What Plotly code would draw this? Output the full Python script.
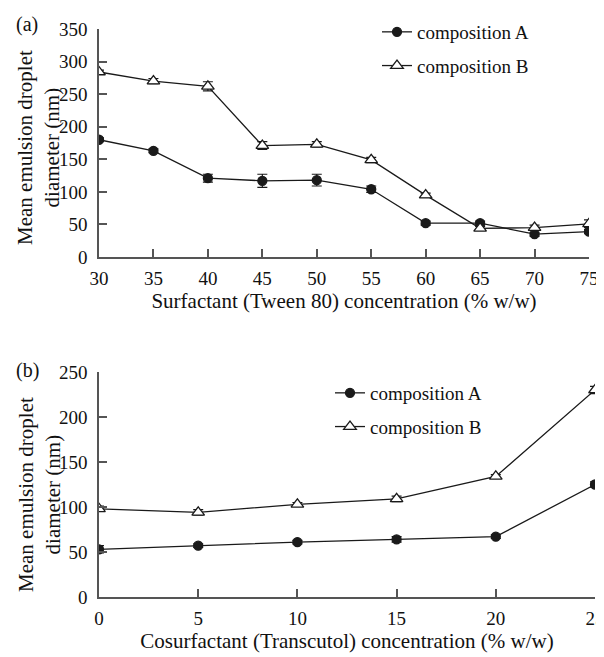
import plotly.graph_objects as go

# Panel (a): surfactant concentration
surf_conc = [30, 35, 40, 45, 50, 55, 60, 65, 70, 75]
a_compA = [180, 163, 121, 117, 118, 104, 52, 52, 35, 39]
a_compA_err = [3, 3, 6, 10, 9, 5, 3, 3, 3, 3]
a_compB = [284, 270, 262, 171, 173, 149, 95, 44, 45, 51]
a_compB_err = [3, 4, 7, 6, 4, 4, 3, 3, 4, 6]

# Panel (b): cosurfactant concentration
cosurf_conc = [0, 5, 10, 15, 20, 25]
b_compA = [53, 57, 61, 64, 67, 125]
b_compA_err = [4, 2, 2, 3, 2, 3]
b_compB = [98, 94, 103, 109, 134, 230]
b_compB_err = [3, 3, 2, 3, 2, 4]

ticks_a_x = [30, 35, 40, 45, 50, 55, 60, 65, 70, 75]
ticks_a_y = [0, 50, 100, 150, 200, 250, 300, 350]
ticks_b_x = [0, 5, 10, 15, 20, 25]
ticks_b_y = [0, 50, 100, 150, 200, 250]

# page body has an 8px margin: size the figure so it fits in the 604x657 window
OFF = 8
W, H = 604 - OFF, 657 - OFF
FONT = "Liberation Serif"
LINE = "#1a1a1a"
AXIS = "#555555"

def px_x(p):
    return (p - OFF) / W

def px_y(p):
    return 1 - (p - OFF) / H

fig = go.Figure()

def add_series(x, y, err, name, symbol, fill, xa, ya, legend, group):
    fig.add_trace(go.Scatter(
        x=x, y=y, name=name, mode="lines+markers",
        xaxis=xa, yaxis=ya, legend=legend, legendgroup=group,
        line=dict(color=LINE, width=1.3),
        marker=dict(symbol=symbol, size=9 if symbol == "circle" else 11,
                    color=fill, line=dict(color=LINE, width=1.3)),
        error_y=dict(type="data", array=err, visible=True,
                     color=LINE, thickness=1.2, width=5),
    ))

add_series(surf_conc, a_compA, a_compA_err, "composition A", "circle", LINE, "x", "y", "legend", "a1")
add_series(surf_conc, a_compB, a_compB_err, "composition B", "triangle-up", "white", "x", "y", "legend", "a2")
add_series(cosurf_conc, b_compA, b_compA_err, "composition A", "circle", LINE, "x2", "y2", "legend2", "b1")
add_series(cosurf_conc, b_compB, b_compB_err, "composition B", "triangle-up", "white", "x2", "y2", "legend2", "b2")

axis_common = dict(
    showgrid=False, zeroline=False, showline=True, linecolor=AXIS, linewidth=1.5,
    ticks="inside", ticklen=8, tickwidth=1.5, tickcolor=AXIS,
    tickfont=dict(family=FONT, size=19, color="#111"),
    mirror=False, automargin=False, ticklabeloverflow="allow",
)

fig.update_layout(
    width=W, height=H,
    margin=dict(l=0, r=0, t=0, b=0, autoexpand=False),
    paper_bgcolor="white", plot_bgcolor="white",
    font=dict(family=FONT, color="#111"),
    xaxis=dict(domain=[px_x(99), px_x(589)], range=[30, 75], anchor="y",
               tickvals=ticks_a_x, ticklabelstandoff=3,
               title=dict(text="Surfactant (Tween 80) concentration (% w/w)",
                          font=dict(family=FONT, size=21), standoff=0),
               **axis_common),
    yaxis=dict(domain=[px_y(257), px_y(29)], range=[0, 350], anchor="x",
               tickvals=ticks_a_y, ticklabelstandoff=6, **axis_common),
    xaxis2=dict(domain=[px_x(99), px_x(595)], range=[0, 25], anchor="y2",
                tickvals=ticks_b_x, ticklabelstandoff=3,
                title=dict(text="Cosurfactant (Transcutol) concentration (% w/w)",
                           font=dict(family=FONT, size=21), standoff=0),
                **axis_common),
    yaxis2=dict(domain=[px_y(597), px_y(372)], range=[0, 250], anchor="x2",
                tickvals=ticks_b_y, ticklabelstandoff=6, **axis_common),
    legend=dict(x=px_x(377), y=px_y(13), xanchor="left", yanchor="top",
                bgcolor="rgba(0,0,0,0)", font=dict(family=FONT, size=19),
                tracegroupgap=6, itemwidth=30),
    legend2=dict(x=px_x(330), y=px_y(374), xanchor="left", yanchor="top",
                 bgcolor="rgba(0,0,0,0)", font=dict(family=FONT, size=19),
                 tracegroupgap=6, itemwidth=30),
    showlegend=True,
    annotations=[
        dict(text="(a)", x=px_x(27), y=px_y(24), xref="paper", yref="paper",
             xanchor="center", yanchor="middle",
             showarrow=False, font=dict(family=FONT, size=20)),
        dict(text="(b)", x=px_x(27), y=px_y(371), xref="paper", yref="paper",
             xanchor="center", yanchor="middle",
             showarrow=False, font=dict(family=FONT, size=20)),
        dict(text="Mean emulsion droplet<br>diameter (nm)", textangle=-90,
             x=px_x(39), y=px_y(148), xref="paper", yref="paper",
             xanchor="center", yanchor="middle",
             showarrow=False, font=dict(family=FONT, size=21)),
        dict(text="Mean emulsion droplet<br>diameter (nm)", textangle=-90,
             x=px_x(39), y=px_y(495), xref="paper", yref="paper",
             xanchor="center", yanchor="middle",
             showarrow=False, font=dict(family=FONT, size=21)),
    ],
)

fig.write_html("out.html")
